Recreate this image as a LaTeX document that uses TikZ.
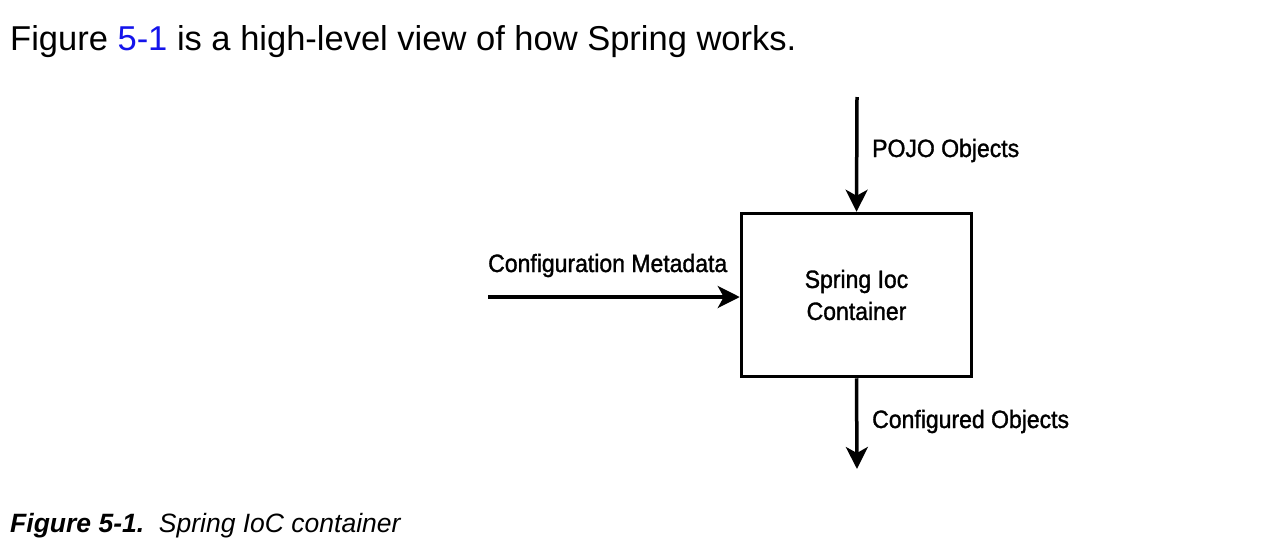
\documentclass[tikz,border=0pt]{standalone}
\usepackage{fontspec}
\setmainfont{Liberation Sans}
\newfontfamily\narrowfont[FakeStretch=0.92,FakeBold=1.3]{Liberation Sans}
\usetikzlibrary{arrows.meta}
\definecolor{linkblue}{RGB}{20,20,235}
\tikzset{
  flow/.style={line width=3.5pt,-{Stealth[length=22pt,width=22pt,inset=6pt]}},
  lbl/.style={font=\narrowfont\fontsize{25}{30}\selectfont,inner sep=0pt},
  boxnode/.style={draw,line width=3.5pt,minimum width=230pt,minimum height=163pt,inner sep=0pt,align=center,font=\narrowfont\fontsize{25}{32}\selectfont}
}
\begin{document}
\begin{tikzpicture}[x=1pt,y=-1pt]
\useasboundingbox[fill=white] (0,0) rectangle (1287,557);
\node[anchor=base west,inner sep=0pt,font=\fontsize{34.5}{38}\selectfont] (head) at (10,50) {Figure \textcolor{linkblue}{5-1} is a high-level view of how Spring works.};
\node[boxnode] (ioc) at (856.5,295) {Spring Ioc\\Container};
\coordinate (topstart) at (857,97);
\coordinate (leftstart) at (488,297);
\coordinate (botend) at (857,469);
\draw[flow] (topstart) -- (ioc.north);
\draw[flow] (leftstart) -- (leftstart -| ioc.west);
\draw[flow] (ioc.south) -- (botend);
\node[lbl,anchor=base west] (pojo) at (872,157) {POJO Objects};
\node[lbl,anchor=base west] (meta) at (488,272) {Configuration Metadata};
\node[lbl,anchor=base west] (conf) at (872,428) {Configured Objects};
\node[anchor=base west,inner sep=0pt,font=\itshape\fontsize{26.5}{30}\selectfont] (cap) at (10,532) {\textbf{Figure 5-1.}\ \ Spring IoC container};
\end{tikzpicture}
\end{document}
